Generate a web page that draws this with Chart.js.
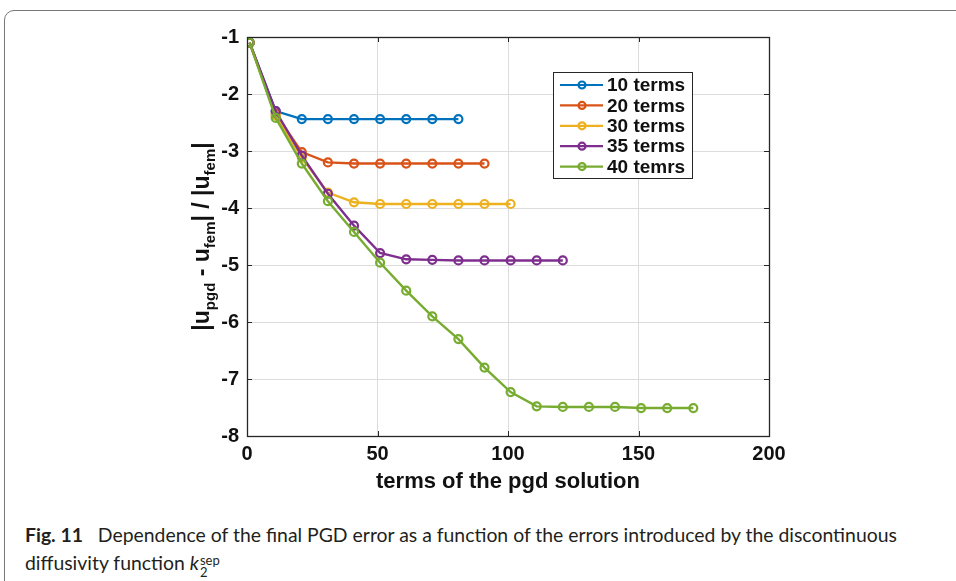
<!DOCTYPE html>
<html>
<head>
<meta charset="utf-8">
<script src="https://cdn.jsdelivr.net/npm/chart.js@4.4.1/dist/chart.umd.min.js"></script>
<style>
  body { margin: 0; width: 956px; height: 581px; overflow: hidden; background: #fff; position: relative; }
  .frame { position: absolute; left: 4px; top: 10px; width: 1000px; height: 700px; border: 1.5px solid #77787b; border-radius: 10px; }
  #wrap { position: absolute; left: 0; top: 0; width: 956px; height: 500px; }
  .cap { position: absolute; left: 25px; top: 521px; font-family: Lato, sans-serif; font-size: 19.4px; line-height: 28px; color: #231f20; white-space: nowrap; }
  .cap b { font-weight: 700; }
  .ss { display: inline-block; vertical-align: -7px; line-height: 12px; font-size: 13px; margin-left: 1px; }
</style>
</head>
<body>
<div class="frame"></div>
<div id="wrap"><canvas id="chart" width="956" height="500"></canvas></div>
<div class="cap"><b>Fig. 11</b>&nbsp;&nbsp; Dependence of the final PGD error as a function of the errors introduced by the discontinuous<br>diffusivity function <i>k</i><span class="ss">sep<br>2</span></div>
<script>
// number of pgd terms at each marker
const terms = [1, 11, 21, 31, 41, 51, 61, 71, 81, 91, 101, 111, 121, 131, 141, 151, 161, 171]

const seriesNames = ['10 terms', '20 terms', '30 terms', '35 terms', '40 temrs']
const seriesColors = ['#0072bd', '#d95319', '#edb120', '#7e2f8e', '#77ac30']

const err10 = [-1.1, -2.3, -2.44, -2.44, -2.44, -2.44, -2.44, -2.44, -2.44]
const err20 = [-1.1, -2.35, -3.02, -3.2, -3.22, -3.22, -3.22, -3.22, -3.22, -3.22]
const err30 = [-1.1, -2.38, -3.12, -3.73, -3.9, -3.93, -3.93, -3.93, -3.93, -3.93, -3.93]
const err35 = [-1.1, -2.3, -3.08, -3.75, -4.31, -4.79, -4.9, -4.91, -4.92, -4.92, -4.92, -4.92, -4.92]
const err40 = [-1.1, -2.42, -3.22, -3.88, -4.42, -4.96, -5.45, -5.9, -6.3, -6.8, -7.23, -7.48, -7.49, -7.49, -7.49, -7.51, -7.51, -7.51]

const xTicks = [0, 50, 100, 150, 200]
const yTicks = [-1, -2, -3, -4, -5, -6, -7, -8]

const allErrors = [err10, err20, err30, err35, err40]

const tickFont = { family: 'Liberation Sans, Arial, sans-serif', size: 20, weight: 'bold' }

// box, inward ticks, legend and axis titles (MATLAB look)
const matlabAxes = {
  id: 'matlabAxes',
  afterDraw(chart) {
    const { ctx, chartArea: a, scales } = chart
    ctx.save()
    ctx.strokeStyle = '#262626'
    ctx.lineWidth = 1
    ctx.beginPath()
    xTicks.forEach(v => {
      const px = Math.round(scales.x.getPixelForValue(v)) + 0.5
      ctx.moveTo(px, a.bottom); ctx.lineTo(px, a.bottom - 5)
      ctx.moveTo(px, a.top); ctx.lineTo(px, a.top + 5)
    })
    yTicks.forEach(v => {
      const py = Math.round(scales.y.getPixelForValue(v)) + 0.5
      ctx.moveTo(a.left, py); ctx.lineTo(a.left + 5, py)
      ctx.moveTo(a.right, py); ctx.lineTo(a.right - 5, py)
    })
    ctx.stroke()
    ctx.lineWidth = 1.3
    ctx.strokeRect(Math.round(a.left) + 0.5, Math.round(a.top) + 0.5, Math.round(a.right - a.left), Math.round(a.bottom - a.top))

    // legend
    const lx = 553, ly = 72, lw = 139, lh = 106
    ctx.fillStyle = '#fff'
    ctx.fillRect(lx, ly, lw, lh)
    ctx.strokeStyle = '#262626'
    ctx.lineWidth = 1
    ctx.strokeRect(lx + 0.5, ly + 0.5, lw, lh)
    ctx.font = 'bold 19px "Liberation Sans", Arial, sans-serif'
    ctx.textBaseline = 'middle'
    chart.data.datasets.forEach((ds, i) => {
      const y = ly + 13 + i * 20.4
      ctx.strokeStyle = ds.borderColor
      ctx.lineWidth = 2.2
      ctx.beginPath(); ctx.moveTo(560, y); ctx.lineTo(603, y); ctx.stroke()
      ctx.beginPath(); ctx.arc(582, y, 3.5, 0, Math.PI * 2); ctx.stroke()
      ctx.fillStyle = '#111'
      ctx.fillText(ds.label, 607, y + 1)
    })

    // x title
    ctx.fillStyle = '#111'
    ctx.textAlign = 'center'
    ctx.textBaseline = 'alphabetic'
    ctx.font = 'bold 22px "Liberation Sans", Arial, sans-serif'
    ctx.fillText('terms of the pgd solution', (a.left + a.right) / 2, 488)

    // y title with subscripts
    const big = 'bold 23px "Liberation Sans", Arial, sans-serif'
    const small = 'bold 15px "Liberation Sans", Arial, sans-serif'
    const parts = [['|u', big, 0], ['pgd', small, 6], [' - u', big, 0], ['fem', small, 6], ['| / |u', big, 0], ['fem', small, 6], ['|', big, 0]]
    ctx.textAlign = 'left'
    let total = 0
    parts.forEach(p => { ctx.font = p[1]; total += ctx.measureText(p[0]).width })
    ctx.translate(209, (a.top + a.bottom) / 2)
    ctx.rotate(-Math.PI / 2)
    let x = -total / 2
    parts.forEach(p => {
      ctx.font = p[1]
      ctx.fillText(p[0], x, p[2])
      x += ctx.measureText(p[0]).width
    })
    ctx.restore()
  }
}

new Chart(document.getElementById('chart'), {
  type: 'line',
  data: {
    datasets: allErrors.map((errs, i) => ({
      label: seriesNames[i],
      data: errs.map((v, j) => ({ x: terms[j], y: v })),
      borderColor: seriesColors[i],
      backgroundColor: 'rgba(0,0,0,0)',
      borderWidth: 2.4,
      pointRadius: 4,
      pointBorderWidth: 2.2,
      pointHoverRadius: 4,
      tension: 0,
      order: allErrors.length - i
    }))
  },
  options: {
    responsive: false,
    animation: false,
    events: [],
    layout: { padding: { left: 0, top: 37, right: 187, bottom: 0 } },
    plugins: { legend: { display: false }, tooltip: { enabled: false } },
    scales: {
      x: {
        type: 'linear',
        min: 0,
        max: 200,
        afterBuildTicks: s => { s.ticks = xTicks.map(v => ({ value: v })) },
        afterFit: s => { s.height = 64 },
        grid: { color: '#dcdcdc', drawTicks: false },
        border: { display: false },
        ticks: { color: '#111', font: tickFont, padding: 6, maxRotation: 0 }
      },
      y: {
        min: -8,
        max: -1,
        afterBuildTicks: s => { s.ticks = yTicks.map(v => ({ value: v })) },
        afterFit: s => { s.width = 247 },
        grid: { color: '#dcdcdc', drawTicks: false },
        border: { display: false },
        ticks: { color: '#111', font: tickFont, padding: 8 }
      }
    }
  },
  plugins: [matlabAxes]
})
</script>
</body>
</html>
